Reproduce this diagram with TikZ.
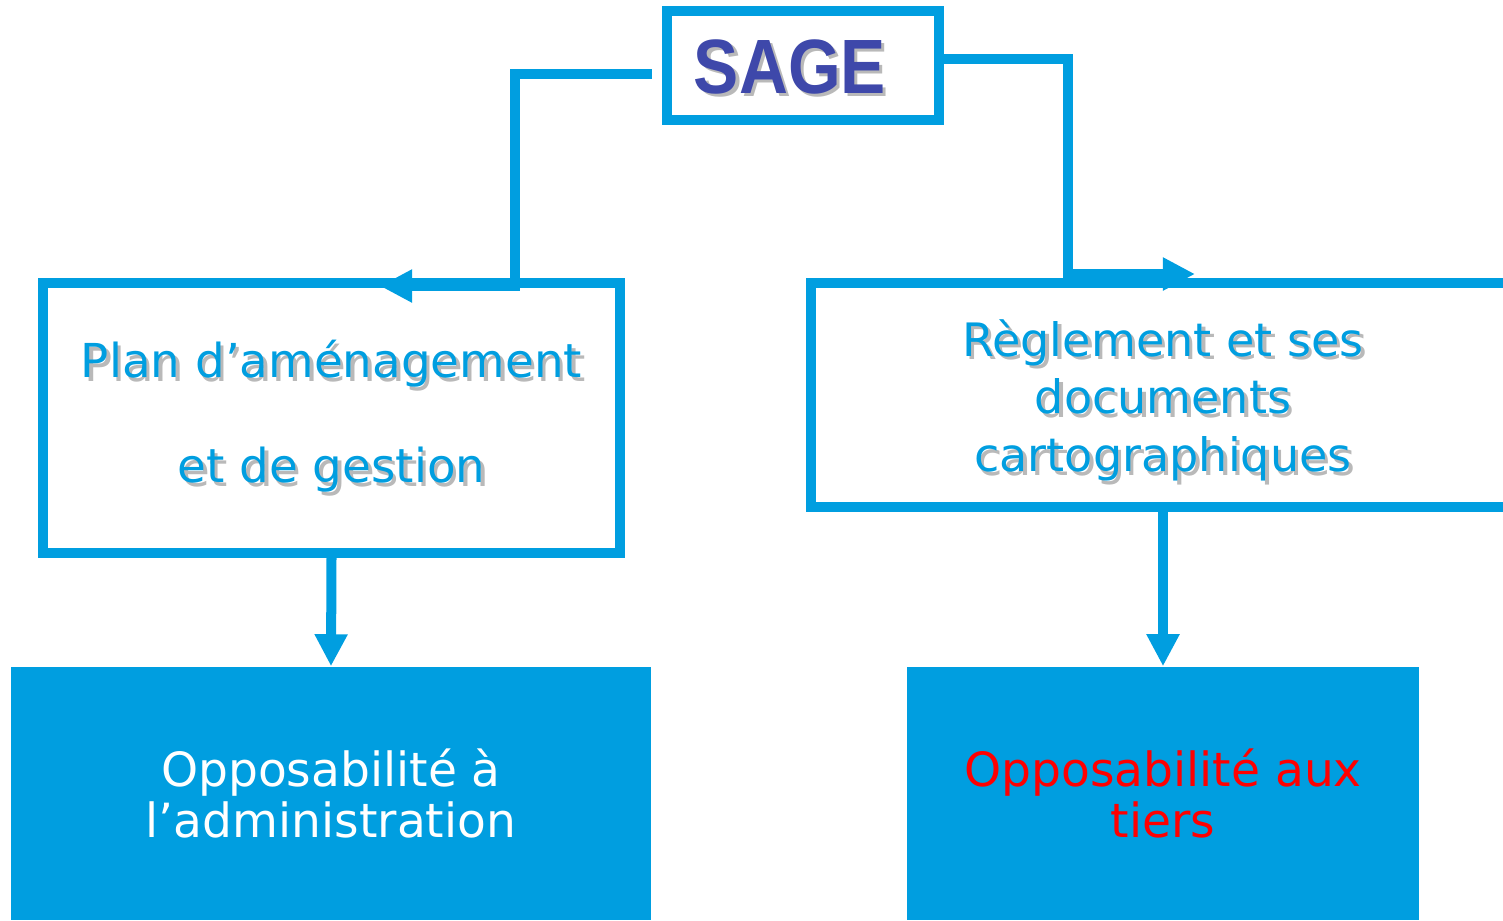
\documentclass[tikz,border=0pt]{standalone}
\usepackage{fontspec}
\setmainfont{DejaVu Sans}
\newfontfamily\liberation{Liberation Sans}
\usetikzlibrary{arrows.meta}
\definecolor{sagecyan}{RGB}{0,158,224}
\definecolor{sageblue}{RGB}{62,72,170}
\definecolor{ombregris}{RGB}{185,185,185}
\newcommand{\ombre}[1]{\makebox[0pt][l]{\hspace{1pt}\raisebox{-1pt}{\textcolor{ombregris}{#1}}}#1}
\begin{document}
\begin{tikzpicture}[x=0.01cm,y=-0.01cm]

    \tikzset{
      cadre/.style={
        draw=sagecyan,
        line width=0.1cm,
        inner sep=0pt,
      },
      plein/.style={
        fill=sagecyan,
        inner sep=0pt,
        align=center,
        font=\fontsize{13.4pt}{14.5pt}\selectfont,
      },
      lien/.style={draw=sagecyan, line width=0.1cm},
      fleche/.style={lien, -{Triangle[length=0.32cm,width=0.31cm]}},
      titre/.style={text=sagecyan, align=center},
    }
    \clip (0,0) rectangle (1503,920);
	\node[cadre, minimum width=2.72cm, minimum height=1.09cm, text=sageblue,
	  font=\liberation\bfseries\fontsize{21.9pt}{24pt}\selectfont] (sage) at (803,65.5)
	  {\raisebox{-0.275cm}[0pt][0pt]{\scalebox{0.88}[1]{\ombre{SAGE}}}\kern0.26cm};
	\node[cadre, titre, minimum width=5.77cm, minimum height=2.70cm,
	  font=\fontsize{13.3pt}{29.9pt}\selectfont] (plan) at (331.5,418)
	  {\ombre{Plan d’aménagement}\\\ombre{et de gestion}};
	\node[cadre, minimum width=7.04cm, minimum height=2.24cm] (reglement) at (1163,395) {};
	\node[titre, font=\fontsize{13.1pt}{16.4pt}\selectfont] (reglementtxt) at ([yshift=-0.07cm]reglement.center)
	  {\ombre{Règlement et ses}\\\ombre{documents}\\\ombre{cartographiques}};
	\node[plein, minimum width=6.4cm, minimum height=2.53cm, text=white] (admin) at (331,793.5)
	  {Opposabilité à\\l’administration};
	\node[plein, minimum width=5.12cm, minimum height=2.53cm, text=red] (tiers) at (1163,793.5)
	  {Opposabilité aux\\tiers};
	\coordinate (pointeG) at (380,286);
	\coordinate (pointeD) at (1195,274);
	\draw[fleche] ([xshift=-0.1cm,yshift=-0.085cm]sage.west) -| (515,286) -- (pointeG);
	\draw[fleche] ([yshift=0.07cm]sage.east) -| (1068,274) -- (pointeD);
	\draw[fleche] (plan.south) -- (admin.north);
	\draw[fleche] (reglement.south) -- (tiers.north);

\end{tikzpicture}
\end{document}
